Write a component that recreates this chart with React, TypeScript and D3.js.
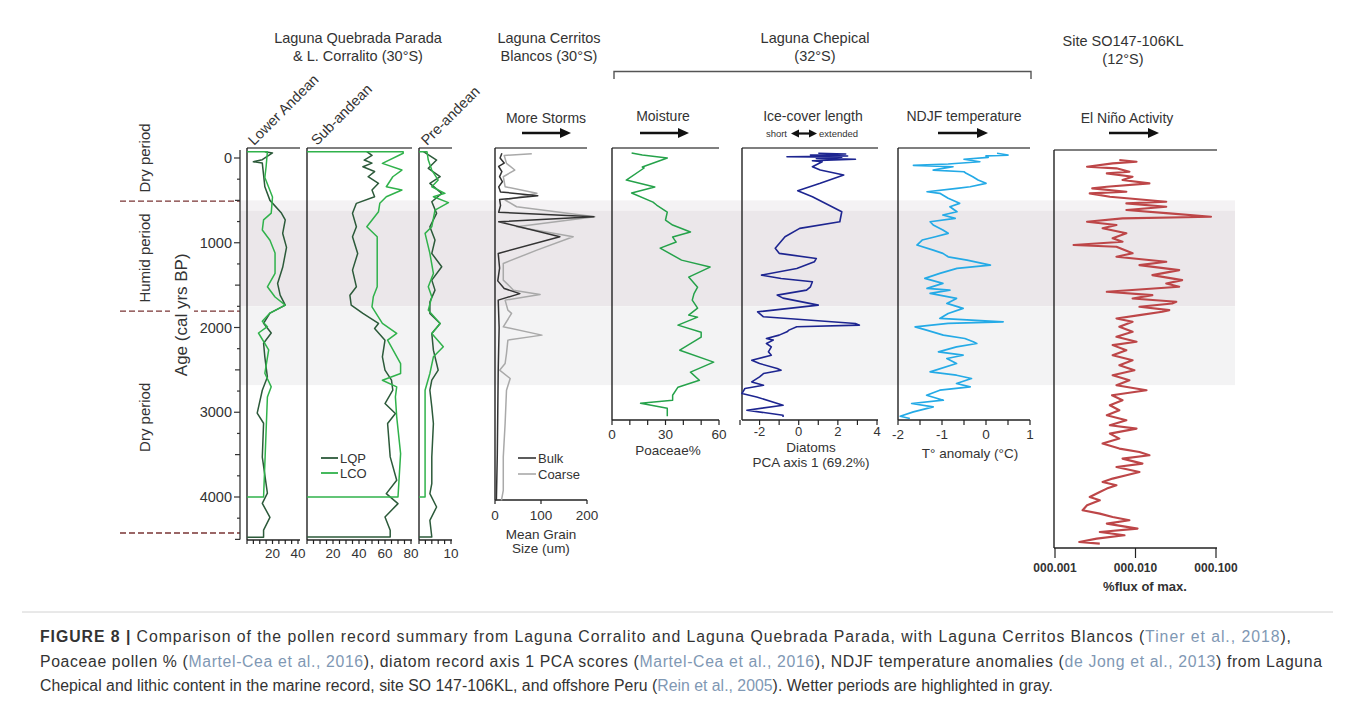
import React, { useEffect } from "react";
import * as d3 from "d3";

type Pt = [number, number]; // [age (cal yr BP), value]

// ---------- age axis & periods ----------
const ageTicks = [0, 1000, 2000, 3000, 4000];
const periodLabels = ["Dry period", "Humid period", "Dry period"];
const periodLabelAges = [0, 1180, 3060];
const periodBoundaries = [508, 1806, 4425];
const wetBands: Pt[] = [[500, 620], [620, 1750], [1750, 2680]];

// ---------- Laguna Quebrada Parada (LQP) & L. Corralito (LCO) pollen ----------
const lowerLQP: Pt[] = [[-75, 14], [-60, 20], [20, 12], [44, 5], [60, 12], [200, 13], [340, 14], [500, 18], [650, 27], [730, 30], [890, 28], [1055, 31], [1290, 28], [1480, 24], [1617, 26], [1735, 30], [1830, 18], [1950, 13], [2065, 19], [2185, 13], [2350, 14], [2585, 16], [2740, 12], [3010, 8], [3130, 13], [3530, 12], [3955, 16], [4075, 12], [4240, 18], [4390, 13], [4475, 13], [4475, 0]];
const lowerLCO: Pt[] = [[-75, 0], [-75, 16], [100, 15], [230, 14], [460, 20], [650, 19], [730, 13], [850, 12], [970, 18], [1120, 22], [1360, 22], [1520, 16], [1640, 22], [1735, 30], [1830, 18], [1925, 12], [1990, 16], [2065, 9], [2265, 17], [2540, 14], [2700, 19], [2820, 16], [4000, 13], [4000, 0]];
const subLQP: Pt[] = [[-75, 46], [-30, 50], [24, 44], [60, 50], [103, 43], [160, 52], [221, 47], [299, 55], [378, 50], [457, 52], [535, 38], [653, 35], [811, 38], [929, 35], [1126, 39], [1323, 35], [1520, 38], [1620, 33], [1735, 34], [1834, 43], [1952, 55], [2011, 52], [2149, 60], [2346, 58], [2504, 60], [2622, 65], [2740, 66], [2897, 60], [3015, 68], [3133, 62], [3527, 64], [3803, 69], [3960, 61], [4078, 70], [4236, 60], [4393, 64], [4472, 64], [4472, 0]];
const subLCO: Pt[] = [[-75, 0], [-75, 74], [-56, 74], [63, 58], [142, 73], [221, 66], [339, 61], [378, 73], [457, 61], [535, 56], [634, 55], [811, 46], [929, 54], [1126, 54], [1520, 54], [1638, 51], [1756, 50], [1952, 58], [2070, 69], [2149, 62], [2425, 72], [2543, 72], [2622, 58], [2701, 69], [2819, 68], [3055, 69], [3488, 72], [4000, 70], [4000, 0]];
const preLQP: Pt[] = [[-75, 1.4], [24, 5.5], [122, 2.9], [221, 6.6], [299, 3.4], [417, 7.1], [516, 4.0], [653, 5.5], [811, 3.4], [968, 5.0], [1126, 4.0], [1283, 7.1], [1441, 4.0], [1559, 5.0], [1700, 3.4], [1834, 3.4], [1952, 6.6], [2070, 4.0], [2267, 4.5], [2504, 6.0], [2622, 4.0], [2740, 3.4], [2937, 4.0], [3133, 4.5], [3527, 4.0], [3842, 4.0], [3960, 3.4], [4118, 5.5], [4275, 3.4], [4472, 4.0], [4472, 0]];
const preLCO: Pt[] = [[-75, 0], [-75, 2.5], [24, 2.9], [142, 4.0], [260, 6.0], [339, 4.0], [417, 8.1], [457, 4.5], [527, 9.2], [614, 5.0], [811, 4.0], [889, 1.9], [1126, 3.4], [1362, 4.5], [1520, 2.9], [1638, 4.0], [1795, 2.9], [1952, 6.6], [2070, 4.0], [2228, 7.6], [2346, 4.5], [2543, 3.4], [2740, 1.9], [3133, 1.9], [4000, 1.9], [4000, 0]];

// ---------- Laguna Cerritos Blancos grain size (um) ----------
const grainBulk: Pt[] = [[-56, 15], [0, 11], [60, 20], [100, 8], [160, 15], [220, 10], [280, 16], [340, 8], [400, 12], [445, 93], [490, 10], [560, 12], [640, 8], [693, 215], [752, 8], [929, 141], [1126, 7], [1300, 10], [1450, 6], [1540, 20], [1600, 54], [1677, 7], [2000, 9], [2500, 7], [3000, 6], [3500, 5], [4039, 3]];
const grainCoarse: Pt[] = [[-50, 80], [-30, 20], [63, 25], [142, 43], [221, 18], [339, 22], [417, 91], [496, 22], [575, 47], [693, 217], [811, 47], [929, 170], [1087, 91], [1244, 18], [1441, 18], [1520, 33], [1560, 40], [1610, 98], [1677, 22], [1795, 28], [1834, 36], [1992, 18], [2090, 102], [2149, 28], [2307, 25], [2425, 22], [2504, 10], [2602, 33], [2740, 25], [3133, 22], [3527, 18], [3921, 18], [4039, 14]];

// ---------- Laguna Chepical ----------
const poaceae: Pt[] = [[-59, 11], [-35, 17], [0, 31], [106, 17], [118, 18], [260, 8], [342, 24], [413, 11], [520, 23], [555, 25], [638, 31], [732, 30], [791, 34], [874, 44], [933, 34], [992, 36], [1063, 27], [1205, 39], [1287, 55], [1405, 43], [1524, 48], [1600, 46], [1677, 45], [1771, 48], [1854, 43], [1878, 48], [1972, 37], [2055, 50], [2114, 50], [2268, 38], [2409, 57], [2527, 44], [2622, 49], [2704, 37], [2799, 34], [2858, 34], [2893, 16], [2953, 31], [3047, 31]];
const diatomPCA: Pt[] = [[-56, 1.0], [-47, 2.4], [-35, 0.6], [-24, 2.5], [-15, -0.6], [-8, 2.2], [4, 0.9], [15, 2.9], [32, 0.7], [44, 1.2], [103, 0.7], [142, 1.1], [201, 2.3], [299, 1.1], [386, -0.05], [457, 0.7], [516, 1.2], [634, 2.2], [752, 2.1], [830, 0.05], [929, -0.7], [1066, -1.2], [1125, -1.0], [1185, 0.9], [1225, 0.8], [1303, -0.1], [1382, -1.9], [1421, -0.9], [1461, 0.7], [1520, 0.6], [1559, 0.4], [1618, -1.1], [1653, -0.8], [1736, 1.0], [1815, -2.1], [1874, -1.8], [1952, 2.9], [1972, 3.1], [1992, -0.1], [2031, -0.5], [2051, -0.6], [2090, -1.0], [2130, -1.65], [2149, -1.3], [2189, -1.65], [2228, -1.4], [2287, -1.55], [2327, -1.4], [2386, -2.4], [2425, -2.0], [2484, -1.1], [2504, -0.9], [2543, -1.8], [2582, -2.0], [2642, -2.4], [2681, -1.8], [2720, -2.75], [2760, -2.85], [2779, -2.9], [2819, -2.15], [2917, -0.8], [2976, -2.65], [3035, -0.8], [3055, -0.8]];
const ndjfTemp: Pt[] = [[-56, 0.25], [-35, 0.5], [-24, 0.0], [-8, 0.05], [15, -0.5], [44, -0.14], [71, -0.86], [86, -1.65], [103, -0.75], [122, -0.98], [142, -1.2], [162, -0.5], [181, -0.45], [221, -0.3], [260, -0.18], [299, 0.0], [339, -0.36], [358, -0.66], [398, -1.34], [417, -1.05], [476, -0.86], [535, -0.6], [575, -0.82], [634, -0.66], [673, -0.98], [712, -0.7], [752, -1.27], [791, -1.2], [850, -0.98], [889, -0.86], [929, -1.15], [968, -1.45], [1027, -1.57], [1087, -1.2], [1125, -0.98], [1166, -0.86], [1205, -0.43], [1264, 0.1], [1303, -0.66], [1362, -1.05], [1421, -1.39], [1480, -0.98], [1539, -1.34], [1559, -0.82], [1598, -1.27], [1657, -0.67], [1716, -0.89], [1775, -0.52], [1834, -0.86], [1893, -1.05], [1933, 0.39], [1952, -0.86], [1992, -1.61], [2031, -1.35], [2090, -0.97], [2130, -0.48], [2169, -0.29], [2189, -0.21], [2228, -0.67], [2287, -1.08], [2327, -0.52], [2366, -0.89], [2425, -0.67], [2523, -1.27], [2563, -0.67], [2602, -0.33], [2661, -0.67], [2701, -0.36], [2740, -1.05], [2799, -1.35], [2858, -0.97], [2897, -1.69], [2937, -1.2], [2996, -1.65], [3047, -1.95], [3074, -1.73]];

// ---------- Site SO147-106KL lithic flux (fraction of max) ----------
const elNino: Pt[] = [[24, 0.0063], [44, 0.0103], [63, 0.0052], [103, 0.0025], [122, 0.0058], [162, 0.0084], [181, 0.0044], [221, 0.0092], [260, 0.0069], [299, 0.0149], [339, 0.0044], [358, 0.0029], [398, 0.0077], [417, 0.0027], [457, 0.0048], [516, 0.0241], [535, 0.0077], [575, 0.0241], [614, 0.0077], [653, 0.0263], [693, 0.0867], [712, 0.0069], [752, 0.0025], [791, 0.0058], [830, 0.0039], [889, 0.0077], [948, 0.0052], [988, 0.0069], [1027, 0.0017], [1048, 0.0058], [1125, 0.0092], [1166, 0.0058], [1225, 0.0241], [1264, 0.0112], [1323, 0.0349], [1382, 0.0162], [1441, 0.038], [1480, 0.0241], [1520, 0.0349], [1579, 0.0044], [1618, 0.0162], [1657, 0.0092], [1697, 0.0321], [1716, 0.0286], [1756, 0.0112], [1795, 0.0263], [1815, 0.0215], [1854, 0.0112], [1893, 0.0058], [1933, 0.0092], [1992, 0.0063], [2051, 0.0092], [2110, 0.0058], [2169, 0.0103], [2208, 0.0052], [2268, 0.0077], [2327, 0.0052], [2386, 0.0092], [2445, 0.0063], [2504, 0.0097], [2563, 0.0052], [2622, 0.0084], [2681, 0.0058], [2740, 0.0137], [2799, 0.0051], [2858, 0.0069], [2917, 0.0048], [2976, 0.0063], [3035, 0.0044], [3094, 0.0077], [3153, 0.0048], [3193, 0.0103], [3252, 0.0048], [3311, 0.0063], [3370, 0.0039], [3429, 0.0063], [3469, 0.0112], [3508, 0.0149], [3547, 0.0069], [3606, 0.0122], [3646, 0.0058], [3705, 0.0112], [3744, 0.0077], [3783, 0.0052], [3823, 0.0039], [3862, 0.0058], [3901, 0.0044], [3941, 0.0036], [4000, 0.0027], [4039, 0.0036], [4098, 0.0025], [4157, 0.0022], [4196, 0.0036], [4236, 0.0052], [4275, 0.0084], [4314, 0.0044], [4373, 0.0106], [4413, 0.0036], [4452, 0.0073], [4491, 0.0033], [4531, 0.002], [4550, 0.0036]];

// ---------- tick labels ----------
const lowerLabels = [20, 40];
const subLabels = [20, 40, 60, 80];
const preLabels = [10];
const grainLabels = [0, 100, 200];
const poaceaeLabels = [0, 30, 60];
const pcaLabels = [-2, 0, 2, 4];
const tempLabels = [-2, -1, 0, 1];
const fluxTicks = [0.001, 0.01, 0.1];
const fluxLabels = ["000.001", "000.010", "000.100"];

const FONT = "'Liberation Sans', Arial, Helvetica, sans-serif";
const TXT = "#333";
const CITE = "#7f98b4";

const ageY = d3.scaleLinear().domain([0, 4000]).range([158, 497]);

function Trace({ data, x, color, w = 1.5 }: any) {
  const gen = d3.line<Pt>().x(d => x(d[1])).y(d => ageY(d[0]));
  return <path d={gen(data) || ""} fill="none" stroke={color} strokeWidth={w} strokeLinejoin="round" />;
}

function Frame({ x0, x1, yBottom, top = 148 }: any) {
  return (
    <g>
      <line x1={x0} x2={x1} y1={top} y2={top} stroke="#555" strokeWidth={1.4} />
      <line x1={x0} x2={x0} y1={top} y2={yBottom} stroke="#222" strokeWidth={1.4} />
      <line x1={x0} x2={x1} y1={yBottom} y2={yBottom} stroke="#222" strokeWidth={1.3} />
    </g>
  );
}

function BottomAxis({ scale, y, ticks, labels, names, dy = 18, len = 4, fs = 13.5, weight = "normal" }: any) {
  return (
    <g>
      {ticks.map((v: number, i: number) => (
        <line key={"t" + i} x1={scale(v)} x2={scale(v)} y1={y} y2={y + len} stroke="#222" strokeWidth={1.2} />
      ))}
      {labels.map((v: number, i: number) => (
        <text key={"l" + i} x={scale(v)} y={y + dy} textAnchor="middle" fontSize={fs} fill={TXT} fontWeight={weight}>
          {names ? names[i] : String(v)}
        </text>
      ))}
    </g>
  );
}

function Arrow({ x1, x2, y }: any) {
  return (
    <g>
      <line x1={x1} x2={x2 - 8} y1={y} y2={y} stroke="#111" strokeWidth={2.4} />
      <polygon points={`${x2},${y} ${x2 - 11},${y - 5} ${x2 - 11},${y + 5}`} fill="#111" />
    </g>
  );
}

export default function App() {
  useEffect(() => {
    document.body.style.margin = "0";
  }, []);

  const xLower = d3.scaleLinear().domain([0, 40]).range([247, 298]);
  const xSub = d3.scaleLinear().domain([0, 80]).range([307, 411]);
  const xPre = d3.scaleLinear().domain([0, 10]).range([419, 451]);
  const xGrain = d3.scaleLinear().domain([0, 200]).range([495, 587]);
  const xPoa = d3.scaleLinear().domain([0, 60]).range([612, 719]);
  const xPca = d3.scaleLinear().domain([-3, 4]).range([740, 877]);
  const xTemp = d3.scaleLinear().domain([-2, 1]).range([898, 1030]);
  const xFlux = d3.scaleLog().domain([0.001, 0.1]).range([1055, 1216]);

  const bandFills = ["#f4f2f4", "#ebe7ea", "#f3f3f4"];
  const LQP = "#2c5a3a";
  const LCO = "#30b24b";

  return (
    <svg width={1355} height={705} style={{ position: "absolute", left: 0, top: 0, background: "#fff" }} fontFamily={FONT}>
      {/* shaded wetter periods */}
      {wetBands.map((b, i) => (
        <rect key={i} x={240} width={995} y={ageY(b[0])} height={ageY(b[1]) - ageY(b[0])} fill={bandFills[i]} />
      ))}

      {/* period labels and boundaries */}
      {periodLabels.map((p, i) => (
        <text key={i} transform={`translate(150,${ageY(periodLabelAges[i])}) rotate(-90)`} textAnchor="middle" fontSize={15} fill={TXT}>
          {p}
        </text>
      ))}
      {periodBoundaries.map((a, i) => (
        <line key={i} x1={120} x2={240} y1={ageY(a)} y2={ageY(a)} stroke="#7a3535" strokeWidth={1.3} strokeDasharray="6,3" />
      ))}
      <rect x={170} y={ageY(1806) - 3} width={24} height={6} fill="#fff" />
      <text transform={`translate(187,${ageY(1850)}) rotate(-90)`} textAnchor="middle" fontSize={17} fill={TXT}>
        Age (cal yrs BP)
      </text>

      {/* age axis */}
      <line x1={240} x2={240} y1={150} y2={ageY(4500)} stroke="#333" strokeWidth={1.3} />
      {d3.range(0, 4501, 250).map(a => (
        <line key={a} x1={a % 1000 === 0 ? 234 : a % 500 === 0 ? 235 : 237} x2={240} y1={ageY(a)} y2={ageY(a)} stroke="#333" strokeWidth={1.2} />
      ))}
      {ageTicks.map(a => (
        <text key={a} x={232} y={ageY(a)} dy="0.35em" textAnchor="end" fontSize={14.5} fill={TXT}>
          {a}
        </text>
      ))}

      {/* titles */}
      <g fontSize={14.5} fill={TXT} textAnchor="middle">
        <text x={358} y={43}>Laguna Quebrada Parada</text>
        <text x={358} y={61}>&amp; L. Corralito (30°S)</text>
        <text x={549} y={43}>Laguna Cerritos</text>
        <text x={549} y={61}>Blancos (30°S)</text>
        <text x={815} y={43}>Laguna Chepical</text>
        <text x={815} y={61}>(32°S)</text>
        <text x={1123} y={46}>Site SO147-106KL</text>
        <text x={1123} y={64}>(12°S)</text>
      </g>
      <path d="M614,79 V71.5 H1031 V79" fill="none" stroke="#555" strokeWidth={1.4} />

      {/* pollen panels */}
      <g fontSize={14.5} fill={TXT}>
        <text transform="translate(254,146) rotate(-45)">Lower Andean</text>
        <text transform="translate(317,146) rotate(-45)">Sub-andean</text>
        <text transform="translate(427,146) rotate(-45)">Pre-andean</text>
      </g>
      <Frame x0={247} x1={300} yBottom={540} />
      <Frame x0={307} x1={412} yBottom={540} />
      <Frame x0={419} x1={452} yBottom={540} />
      <BottomAxis scale={xLower} y={540} ticks={d3.range(0, 41, 5)} labels={lowerLabels} />
      <BottomAxis scale={xSub} y={540} ticks={d3.range(0, 81, 5)} labels={subLabels} />
      <BottomAxis scale={xPre} y={540} ticks={d3.range(0, 10.1, 2)} labels={preLabels} />
      <Trace data={lowerLQP} x={xLower} color={LQP} />
      <Trace data={lowerLCO} x={xLower} color={LCO} />
      <Trace data={subLQP} x={xSub} color={LQP} />
      <Trace data={subLCO} x={xSub} color={LCO} />
      <Trace data={preLQP} x={xPre} color={LQP} />
      <Trace data={preLCO} x={xPre} color={LCO} />
      <g fontSize={13} fill={TXT}>
        <line x1={321} x2={338} y1={458} y2={458} stroke={LQP} strokeWidth={1.8} />
        <text x={340} y={463}>LQP</text>
        <line x1={321} x2={338} y1={473} y2={473} stroke={LCO} strokeWidth={1.8} />
        <text x={340} y={478}>LCO</text>
      </g>

      {/* Cerritos Blancos */}
      <text x={546} y={123} textAnchor="middle" fontSize={14} fill={TXT}>More Storms</text>
      <Arrow x1={522} x2={571} y={133} />
      <Frame x0={495} x1={587} yBottom={500} />
      <BottomAxis scale={xGrain} y={500} ticks={grainLabels} labels={grainLabels} dy={20} />
      <Trace data={grainCoarse} x={xGrain} color="#a9a9a9" w={1.5} />
      <Trace data={grainBulk} x={xGrain} color="#333" w={1.5} />
      <g fontSize={13} fill={TXT}>
        <line x1={518} x2={536} y1={458} y2={458} stroke="#333" strokeWidth={1.6} />
        <text x={538} y={463}>Bulk</text>
        <line x1={518} x2={536} y1={474} y2={474} stroke="#a9a9a9" strokeWidth={1.6} />
        <text x={538} y={479}>Coarse</text>
      </g>
      <g fontSize={13.5} fill={TXT} textAnchor="middle">
        <text x={541} y={539}>Mean Grain</text>
        <text x={541} y={553}>Size (um)</text>
      </g>

      {/* Moisture / Poaceae */}
      <text x={663} y={121} textAnchor="middle" fontSize={14} fill={TXT}>Moisture</text>
      <Arrow x1={640} x2={689} y={133} />
      <Frame x0={612} x1={719} yBottom={420} />
      <BottomAxis scale={xPoa} y={420} ticks={d3.range(0, 61, 10)} labels={poaceaeLabels} len={5} dy={19} />
      <text x={668} y={455} textAnchor="middle" fontSize={13.5} fill={TXT}>Poaceae%</text>
      <Trace data={poaceae} x={xPoa} color="#25a24a" w={1.5} />

      {/* Ice cover / diatoms */}
      <text x={813} y={121} textAnchor="middle" fontSize={14} fill={TXT}>Ice-cover length</text>
      <g fontSize={9.5} fill={TXT}>
        <text x={787} y={137} textAnchor="end">short</text>
        <text x={819} y={137}>extended</text>
        <line x1={796} x2={812} y1={133.5} y2={133.5} stroke="#111" strokeWidth={2.2} />
        <polygon points="791,133.5 799,129.5 799,137.5" fill="#111" />
        <polygon points="817,133.5 809,129.5 809,137.5" fill="#111" />
      </g>
      <Frame x0={742} x1={878} yBottom={420} />
      <BottomAxis scale={xPca} y={420} ticks={d3.range(-3, 4.01, 1)} labels={pcaLabels} len={5} dy={16} fs={13} />
      <g fontSize={13.5} fill={TXT} textAnchor="middle">
        <text x={811} y={452}>Diatoms</text>
        <text x={811} y={467}>PCA axis 1 (69.2%)</text>
      </g>
      <Trace data={diatomPCA} x={xPca} color="#1d2590" w={1.6} />

      {/* NDJF temperature */}
      <text x={964} y={121} textAnchor="middle" fontSize={14} fill={TXT}>NDJF temperature</text>
      <Arrow x1={938} x2={988} y={133} />
      <Frame x0={898} x1={1030} yBottom={420} />
      <BottomAxis scale={xTemp} y={420} ticks={d3.range(-2, 1.01, 0.5)} labels={tempLabels} len={5} dy={19} />
      <text x={970} y={458} textAnchor="middle" fontSize={13.5} fill={TXT}>T° anomaly (°C)</text>
      <Trace data={ndjfTemp} x={xTemp} color="#24aae6" w={1.7} />

      {/* El Nino */}
      <text x={1127} y={123} textAnchor="middle" fontSize={14} fill={TXT}>El Niño Activity</text>
      <Arrow x1={1109} x2={1159} y={133} />
      <Frame x0={1054} x1={1217} yBottom={548} top={150} />
      <BottomAxis scale={xFlux} y={548} ticks={fluxTicks} labels={fluxTicks} names={fluxLabels} len={10} dy={24} fs={12} weight="bold" />
      <text x={1145} y={591} textAnchor="middle" fontSize={13} fontWeight="bold" fill={TXT}>%flux of max.</text>
      <Trace data={elNino} x={xFlux} color="#bd4648" w={2.1} />

      {/* caption */}
      <line x1={22} x2={1333} y1={612} y2={612} stroke="#d2d2d2" strokeWidth={1} />
      <g fontSize={15.8} fill="#333">
        <text x={40} y={642} textLength={1251} lengthAdjust="spacing">
          <tspan fontWeight="bold">FIGURE 8 | </tspan>Comparison of the pollen record summary from Laguna Corralito and Laguna Quebrada Parada, with Laguna Cerritos Blancos (<tspan fill={CITE}>Tiner et al., 2018</tspan>),
        </text>
        <text x={40} y={667} textLength={1282} lengthAdjust="spacing">
          Poaceae pollen % (<tspan fill={CITE}>Martel-Cea et al., 2016</tspan>), diatom record axis 1 PCA scores (<tspan fill={CITE}>Martel-Cea et al., 2016</tspan>), NDJF temperature anomalies (<tspan fill={CITE}>de Jong et al., 2013</tspan>) from Laguna
        </text>
        <text x={40} y={691} textLength={1013} lengthAdjust="spacing">
          Chepical and lithic content in the marine record, site SO 147-106KL, and offshore Peru (<tspan fill={CITE}>Rein et al., 2005</tspan>). Wetter periods are highlighted in gray.
        </text>
      </g>
    </svg>
  );
}
